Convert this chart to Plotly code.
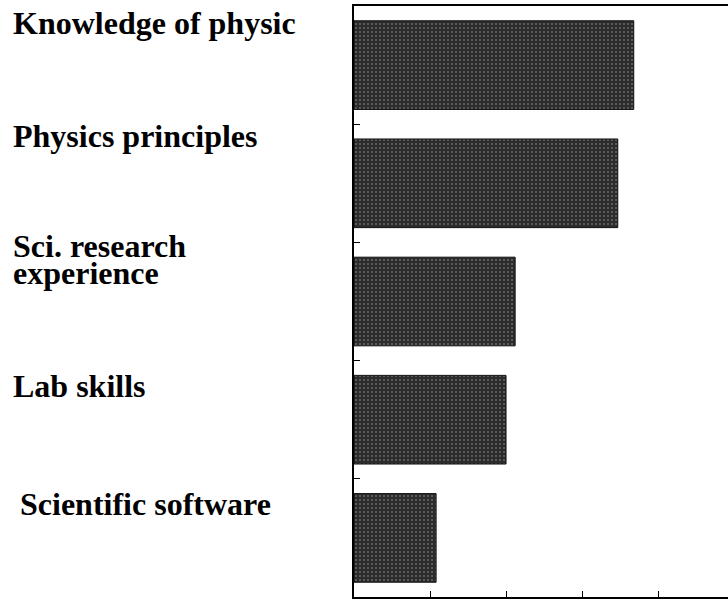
import plotly.graph_objects as go

categories = ["Knowledge of physic", "Physics principles", "Sci. research<br>experience",
              "Lab skills", "Scientific software"]
values = [3.68, 3.47, 2.12, 2.00, 1.08]

# label layout in page pixels: centre y of each text line, left x
label_cy = [[23], [136], [246, 273], [386], [504]]
label_px = [11, 11, 11, 11, 18]

W, H = 728, 599
L, T, B = 354, 6, 2
plot_h = H - T - B

fig = go.Figure()
fig.add_trace(go.Bar(
    y=list(range(len(categories))), x=values, orientation="h", width=0.75,
    marker=dict(color="#333333", line=dict(color="#111111", width=1),
                pattern=dict(shape=".", fgcolor="#a8a8a8", bgcolor="#2c2c2c",
                             size=4, solidity=0.2)),
    showlegend=False,
))

for cat, cys, px in zip(categories, label_cy, label_px):
    for line, cy in zip(cat.split("<br>"), cys):
        fig.add_annotation(text="<b>" + line + "</b>",
                           xref="paper", yref="paper",
                           x=(px - L) / (W - L), y=(H - B - cy) / plot_h,
                           xanchor="left", yanchor="middle", showarrow=False, align="left",
                           font=dict(family="Liberation Serif", size=32, color="#000000"))

fig.update_layout(
    width=W, height=H,
    margin=dict(l=L, r=0, t=T, b=B),
    paper_bgcolor="white", plot_bgcolor="white",
    font=dict(family="Liberation Serif", size=32, color="black"),
)
fig.update_xaxes(range=[0, 4.92], showgrid=False, zeroline=False, showline=True,
                 linecolor="black", linewidth=2, mirror=True,
                 ticks="inside", ticklen=6, tickcolor="black", dtick=1,
                 showticklabels=False)
fig.update_yaxes(range=[4.5, -0.5], showgrid=False, zeroline=False, showline=True,
                 linecolor="black", linewidth=2,
                 tickvals=[0.5, 1.5, 2.5, 3.5], ticks="inside", ticklen=6,
                 tickcolor="black", showticklabels=False)

fig.write_html("out.html", config={"displayModeBar": False},
               post_script="document.body.style.margin='0';")
